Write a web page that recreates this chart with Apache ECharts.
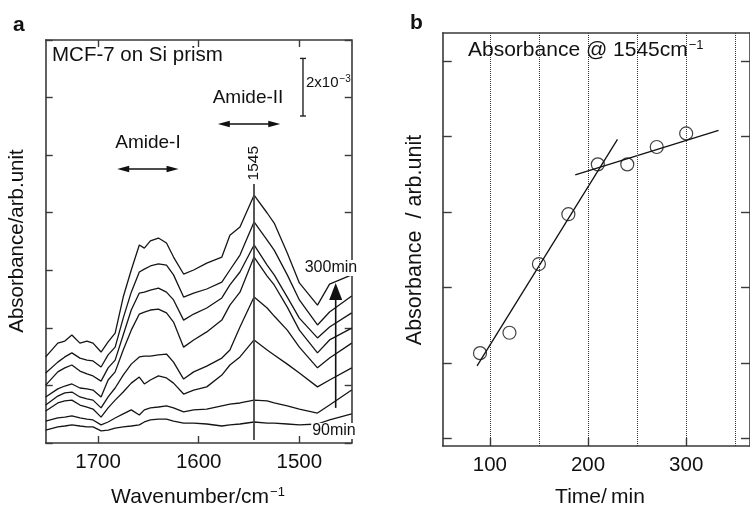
<!DOCTYPE html>
<html><head><meta charset="utf-8">
<script src="https://cdn.jsdelivr.net/npm/echarts@6/dist/echarts.min.js"></script>
<style>html,body{margin:0;padding:0;background:#fff}#c{width:750px;height:508px}</style>
</head><body><div id="c"></div>
<script>
// ---------- Panel a: IR spectra (absorbance in units of 1e-3, offset as plotted) ----------
const wavenumbers = [1752,1740,1733,1726,1718,1711,1705,1697,1690,1683,1675,1667,1659,1654,1648,1640,1632,1625,1615,1605,1592,1577,1569,1559,1545,1532,1525,1512,1500,1482,1470,1448];
const spectrum90  = [0.45,0.56,0.59,0.63,0.59,0.56,0.56,0.42,0.45,0.52,0.56,0.59,0.63,0.73,0.80,0.83,0.83,0.76,0.69,0.69,0.66,0.59,0.63,0.66,0.73,0.69,0.69,0.66,0.63,0.66,0.80,1.01];
const spectrum120 = [0.76,0.87,0.90,0.94,0.87,0.83,0.80,0.63,0.73,0.87,1.01,1.15,0.97,1.15,1.22,1.25,1.29,1.22,1.08,1.15,1.18,1.29,1.35,1.39,1.49,1.46,1.39,1.29,1.18,1.04,1.32,1.84];
const spectrum150 = [1.11,1.39,1.46,1.49,1.32,1.25,1.18,0.90,1.22,1.49,1.77,2.08,2.29,2.05,2.19,2.33,2.26,2.08,1.70,1.84,1.95,2.36,2.71,2.99,3.58,3.23,3.06,2.74,2.43,1.95,2.19,2.61];
const spectrum180 = [1.32,1.63,1.74,1.77,1.60,1.53,1.49,1.22,1.60,1.91,2.36,2.74,2.99,3.02,3.02,3.06,3.09,2.81,2.22,2.47,2.67,2.95,3.23,4.03,5.07,4.69,4.41,3.92,3.33,2.61,2.95,3.47];
const spectrum210 = [1.60,1.88,1.98,2.05,1.91,1.88,1.84,1.60,2.19,2.47,3.23,3.92,4.48,4.55,4.62,4.65,4.52,4.20,3.33,3.58,3.86,4.27,4.79,5.24,6.46,5.80,5.49,4.72,3.92,3.13,3.58,3.99];
const spectrum240 = [2.01,2.47,2.61,2.71,2.50,2.40,2.33,2.15,2.61,2.88,3.75,4.62,5.21,5.24,5.31,5.38,5.24,4.97,4.27,4.48,4.69,5.04,5.49,5.94,6.88,6.18,5.84,5.07,4.34,3.65,4.03,4.52];
const spectrum270 = [2.43,2.81,2.99,3.13,2.95,2.88,2.85,2.64,3.06,3.33,4.34,5.24,5.94,6.04,6.15,6.22,6.18,5.84,5.07,5.21,5.35,5.59,6.01,6.53,7.68,7.05,6.70,5.84,4.97,4.10,4.55,5.11];
const spectrum300 = [2.99,3.47,3.54,3.75,3.47,3.54,3.47,3.16,3.51,3.82,5.07,6.01,6.88,6.77,7.02,7.12,6.95,6.46,5.87,6.01,6.25,6.46,7.22,7.50,8.61,7.99,7.64,6.60,5.56,4.79,5.52,5.84];
const spectra = [spectrum90,spectrum120,spectrum150,spectrum180,spectrum210,spectrum240,spectrum270,spectrum300];
const wavenumberTicks = [1700,1600,1500];

// ---------- Panel b: absorbance at 1545 cm-1 vs time ----------
const times = [90,120,150,180,210,240,270,300];
const absorbance1545 = [1.13,1.40,2.31,2.97,3.63,3.63,3.86,4.04];
const fitEarlyX = [87,230];
const fitEarlyY = [0.96,3.96];
const fitLateX = [187,333];
const fitLateY = [3.49,4.08];
const timeTicks = [100,200,300];
const timeGridLines = [100,150,200,250,300,350];
const absTicks = [0,1,2,3,4,5];

const FONT = '"Liberation Sans", Arial, Helvetica, sans-serif';
const AX = '#3a3a3a';

const chart = echarts.init(document.getElementById('c'));

function frameX(grid, pos, opts) {
  return Object.assign({
    type:'value', gridIndex:grid, position:pos,
    axisLine:{show:true, onZero:false, lineStyle:{color:AX, width:1.6}},
    axisTick:{show:false}, axisLabel:{show:false}, splitLine:{show:false}
  }, opts);
}
const plain = v => String(v);

const option = {
  animation:false,
  backgroundColor:'#fff',
  grid:[
    {left:45.7, top:40, width:306, height:403},
    {left:442.7, top:33, width:311.3, height:413}
  ],
  xAxis:[
    frameX(0,'bottom',{inverse:true, min:1448, max:1752,
      axisTick:{show:true, inside:true, length:7, lineStyle:{color:AX,width:1.4}, customValues:wavenumberTicks},
      axisLabel:{show:true, margin:9, fontSize:20.5, color:'#111', fontFamily:FONT, formatter:plain, customValues:wavenumberTicks}}),
    frameX(0,'top',{inverse:true, min:1448, max:1752,
      axisTick:{show:true, inside:true, length:7, lineStyle:{color:AX,width:1.4}, customValues:wavenumberTicks}}),
    frameX(1,'bottom',{min:52, max:365,
      axisTick:{show:true, inside:true, length:8, lineStyle:{color:AX,width:1.4}, customValues:timeTicks},
      axisLabel:{show:true, margin:9, fontSize:20.5, color:'#111', fontFamily:FONT, formatter:plain, customValues:timeTicks}}),
    frameX(1,'top',{min:52, max:365})
  ],
  yAxis:[
    frameX(0,'left',{min:0, max:14, interval:2,
      axisTick:{show:true, inside:true, length:7, lineStyle:{color:AX,width:1.4}}}),
    frameX(0,'right',{min:0, max:14, interval:2,
      axisTick:{show:true, inside:true, length:7, lineStyle:{color:AX,width:1.4}}}),
    frameX(1,'left',{min:-0.1, max:5.37,
      axisTick:{show:true, inside:true, length:9, lineStyle:{color:AX,width:1.4}, customValues:absTicks}}),
    frameX(1,'right',{min:-0.1, max:5.37,
      axisTick:{show:true, inside:true, length:9, lineStyle:{color:AX,width:1.4}, customValues:absTicks}})
  ],
  series: []
};

spectra.forEach((s, i) => {
  const ser = {
    type:'line', xAxisIndex:0, yAxisIndex:0, symbol:'none', silent:true,
    data: wavenumbers.map((w, k) => [w, s[k]]),
    lineStyle:{color:'#151515', width:1.3}, z:3
  };
  if (i === 0) {
    ser.markLine = {
      silent:true, symbol:'none', label:{show:false},
      lineStyle:{color:'#444', width:1.8, type:'solid'},
      data:[[{coord:[1545,0.1]},{coord:[1545,9.0]}]]
    };
  }
  option.series.push(ser);
});

option.series.push({
  type:'scatter', xAxisIndex:2, yAxisIndex:2, symbol:'circle', symbolSize:13,
  data: times.map((t,k)=>[t, absorbance1545[k]]),
  itemStyle:{color:'rgba(0,0,0,0)', borderColor:'#111', borderWidth:1.2}, z:4,
  markLine:{
    silent:true, symbol:'none', label:{show:false},
    lineStyle:{color:'#333', width:1, type:'dotted'},
    data: timeGridLines.map(v=>({xAxis:v}))
  }
});
option.series.push({
  type:'line', xAxisIndex:2, yAxisIndex:2, symbol:'none', silent:true,
  data: fitEarlyX.map((x,k)=>[x, fitEarlyY[k]]), lineStyle:{color:'#111', width:1.3}, z:3
});
option.series.push({
  type:'line', xAxisIndex:2, yAxisIndex:2, symbol:'none', silent:true,
  data: fitLateX.map((x,k)=>[x, fitLateY[k]]), lineStyle:{color:'#111', width:1.3}, z:3
});

chart.setOption(option);

// ---------- annotations ----------
const PA = (x, y) => chart.convertToPixel({seriesIndex:0}, [x, y]);
const g = [];
function txt(x, y, text, size, opts) {
  g.push(Object.assign({type:'text', x:x, y:y, z:10,
    style:Object.assign({text:text, fill:'#111', font: size + 'px ' + FONT, align:'left', verticalAlign:'middle'}, (opts&&opts.style)||{})
  }, (opts&&opts.el)||{}));
}
function supText(x, y, base, sup, size, supSize, align, rotation) {
  const el = {type:'text', x:x, y:y, z:10, style:{text:'{b|' + base + '}{s|' + sup + '}', fill:'#111', align:align, verticalAlign:'middle',
    rich:{b:{fontSize:size, fontFamily:FONT, lineHeight:Math.round(size*1.05), verticalAlign:'bottom'},
          s:{fontSize:supSize, fontFamily:FONT, lineHeight:supSize, verticalAlign:'top', padding:[0,0,0,1]}}}};
  if (rotation) el.rotation = rotation;
  g.push(el);
}
function hArrow(w1, w2, yv) {
  const a = PA(w1, yv), b = PA(w2, yv);
  const L = 12, H = 3.2;
  g.push({type:'line', z:10, shape:{x1:a[0]+L-2, y1:a[1], x2:b[0]-L+2, y2:b[1]}, style:{stroke:'#111', lineWidth:1.5}});
  g.push({type:'polygon', z:10, shape:{points:[[a[0],a[1]],[a[0]+L,a[1]-H],[a[0]+L,a[1]+H]]}, style:{fill:'#111'}});
  g.push({type:'polygon', z:10, shape:{points:[[b[0],b[1]],[b[0]-L,b[1]-H],[b[0]-L,b[1]+H]]}, style:{fill:'#111'}});
}

txt(13, 25, 'a', 20, {style:{font:'bold 21px ' + FONT}});
txt(410, 23, 'b', 20, {style:{font:'bold 21px ' + FONT}});
txt(52, 55, 'MCF-7 on Si prism', 20.5);

let p = PA(1551, 11.98);
txt(p[0], p[1], 'Amide-II', 19, {style:{align:'center'}});
p = PA(1650.4, 10.42);
txt(p[0], p[1], 'Amide-I', 19, {style:{align:'center'}});
hArrow(1581, 1519, 11.08);
hArrow(1681, 1620, 9.52);

// scale bar 2x10^-3
const s1 = PA(1496.4, 11.36), s2 = PA(1496.4, 13.36);
g.push({type:'line', z:10, shape:{x1:s1[0], y1:s1[1], x2:s2[0], y2:s2[1]}, style:{stroke:'#222', lineWidth:1.4}});
g.push({type:'line', z:10, shape:{x1:s1[0]-3, y1:s1[1], x2:s1[0]+3, y2:s1[1]}, style:{stroke:'#222', lineWidth:1.4}});
g.push({type:'line', z:10, shape:{x1:s2[0]-3, y1:s2[1], x2:s2[0]+3, y2:s2[1]}, style:{stroke:'#222', lineWidth:1.4}});
p = PA(1493.4, 12.54);
supText(p[0], p[1], '2x10', '−3', 15, 10, 'left');

// 1545 label
p = PA(1545, 9.72);
g.push({type:'text', x:p[0], y:p[1], rotation:Math.PI/2, z:10, style:{text:'1545', fill:'#111', font:'15.5px ' + FONT, align:'center', verticalAlign:'middle'}});

// time arrow
const t1 = PA(1463.9, 1.22), t2 = PA(1463.9, 5.56);
g.push({type:'line', z:10, shape:{x1:t1[0], y1:t1[1], x2:t2[0], y2:t2[1]+10}, style:{stroke:'#111', lineWidth:1.6}});
g.push({type:'polygon', z:10, shape:{points:[[t2[0],t2[1]],[t2[0]-6.5,t2[1]+17],[t2[0]+6.5,t2[1]+17]]}, style:{fill:'#111'}});
p = PA(1468.6, 6.08);
txt(p[0], p[1], '300min', 16, {style:{align:'center', backgroundColor:'#fff', padding:[0,1,0,1]}});
p = PA(1465.6, 0.42);
txt(p[0], p[1], '90min', 16, {style:{align:'center', backgroundColor:'#fff', padding:[0,1,0,1]}});

// axis names
supText(198, 497, 'Wavenumber/cm', '−1', 21, 13, 'center');
g.push({type:'text', x:17, y:241, rotation:Math.PI/2, z:10, style:{text:'Absorbance/arb.unit', fill:'#111', font:'20.5px ' + FONT, align:'center', verticalAlign:'middle'}});
g.push({type:'text', x:600, y:497, z:10, style:{text:'Time/\u2009min', fill:'#111', font:'21px ' + FONT, align:'center', verticalAlign:'middle'}});
g.push({type:'text', x:415, y:240, rotation:Math.PI/2, z:10, style:{text:'Absorbance  / arb.unit', fill:'#111', font:'21.5px ' + FONT, align:'center', verticalAlign:'middle'}});
supText(468, 50, 'Absorbance @ 1545cm', '−1', 21, 13, 'left');

chart.setOption({graphic:{elements:g}});
</script></body></html>
